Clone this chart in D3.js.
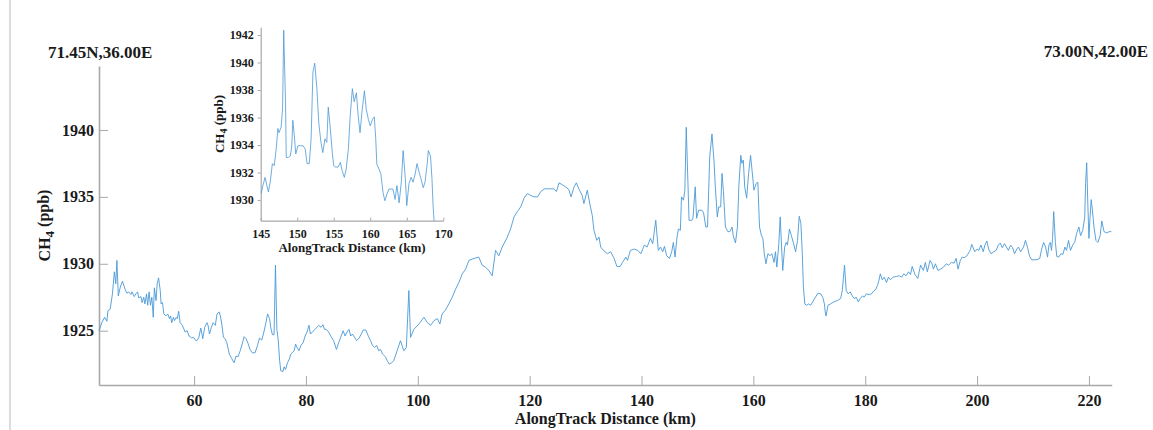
<!DOCTYPE html>
<html>
<head>
<meta charset="utf-8">
<script src="https://cdn.jsdelivr.net/npm/d3@7"></script>
<style>
  body { margin: 0; background: #fff; }
  svg { display: block; font-family: "Liberation Serif", "Times New Roman", serif; }
  .axis path, .axis line { stroke: #a8a8a8; }
  .axis text { fill: #1a1a1a; font-weight: bold; }
  .label { fill: #1a1a1a; font-weight: bold; }
</style>
</head>
<body>
<svg id="chart" width="1153" height="430"></svg>
<script>
// main track: along-track distance (km) and CH4 (ppb)
const trackKm = [
  43.0, 43.5, 44.0, 44.4, 44.6, 45.0, 45.4, 45.75, 46.0, 46.2, 46.45, 46.8, 47.2, 47.65, 48.0, 48.3,
  48.7, 48.9, 49.3, 49.6, 49.9, 50.1, 50.5, 50.7, 51.0, 51.2, 51.5, 51.7, 51.95, 52.2, 52.45, 52.7,
  52.9, 53.2, 53.4, 53.65, 53.95, 54.1, 54.35, 54.6, 54.95, 55.3, 55.6, 55.8, 56.0, 56.3, 56.5, 56.8,
  57.0, 57.25, 57.5, 57.9, 58.4, 58.75, 59.1, 59.6, 59.9, 60.3, 60.6, 60.85, 61.2, 61.55, 61.9, 62.3,
  62.5, 62.75, 63.1, 63.4, 63.8, 64.1, 64.5, 64.7, 64.95, 65.25, 65.55, 65.85, 66.3, 66.75, 67.15, 67.5,
  67.85, 68.25, 68.6, 68.95, 69.3, 69.65, 70.0, 70.4, 70.9, 71.35, 71.7, 72.1, 72.4, 72.8, 73.15, 73.5,
  73.7, 74.0, 74.3, 74.55, 74.8, 75.05, 75.3, 75.5, 75.9, 76.1, 76.35, 76.7, 77.05, 77.3, 77.55, 77.9,
  78.15, 78.4, 78.75, 79.1, 79.5, 79.85, 80.2, 80.55, 80.8, 81.15, 81.5, 81.85, 82.3, 82.7, 83.05, 83.3,
  83.65, 84.05, 84.5, 84.95, 85.45, 85.85, 86.3, 86.65, 87.0, 87.35, 87.7, 88.0, 88.3, 88.7, 89.05, 89.5,
  89.9, 90.25, 90.7, 91.2, 91.55, 91.9, 92.3, 92.65, 93.0, 93.35, 93.7, 94.2, 94.55, 94.9, 95.3, 95.7,
  96.3, 96.9, 97.5, 97.95, 98.4, 98.7, 99.3, 100.2, 101.1, 101.7, 102.3, 102.9, 103.5, 103.95, 104.35, 104.95,
  105.55, 106.15, 106.75, 107.35, 107.95, 108.55, 109.15, 110.05, 110.9, 111.5, 112.1, 112.7, 113.3, 113.9, 114.5, 115.1,
  115.9, 116.6, 117.2, 117.8, 118.4, 119.0, 119.6, 120.2, 120.8, 121.4, 122.0, 122.6, 123.5, 124.3, 124.8, 125.25,
  125.85, 126.4, 127.0, 127.4, 127.95, 128.35, 128.8, 129.4, 129.7, 130.3, 130.8, 131.2, 131.5, 132.0, 132.4, 132.7,
  133.2, 133.9, 134.5, 135.1, 135.6, 136.2, 136.6, 137.2, 137.5, 138.0, 138.7, 139.3, 139.9, 140.5, 141.0, 141.6,
  142.0, 142.55, 143.0, 143.4, 143.8, 144.1, 144.5, 145.0, 145.4, 145.7, 146.0, 146.35, 146.6, 146.95, 147.15, 147.5,
  147.75, 148.0, 148.5, 149.0, 149.2, 149.6, 149.85, 150.2, 150.8, 151.1, 151.5, 151.8, 152.2, 152.6, 152.95, 153.2,
  153.55, 153.8, 154.15, 154.4, 154.65, 155.0, 155.45, 155.8, 156.2, 156.4, 156.8, 157.15, 157.4, 157.75, 157.95, 158.2,
  158.45, 158.8, 159.15, 159.5, 159.9, 160.1, 160.5, 160.8, 161.1, 161.45, 161.7, 161.95, 162.25, 162.6, 163.0, 163.3,
  163.7, 163.95, 164.2, 164.55, 164.8, 165.05, 165.25, 165.6, 165.85, 166.1, 166.45, 166.8, 167.2, 167.55, 167.9, 168.2,
  168.5, 168.75, 168.95, 169.2, 169.5, 169.9, 170.25, 170.6, 171.1, 171.55, 172.05, 172.4, 172.7, 172.85, 173.0, 173.35,
  173.8, 174.4, 175.0, 175.6, 175.9, 176.3, 176.6, 176.95, 177.3, 177.7, 178.0, 178.4, 178.75, 179.1, 179.5, 179.8,
  180.2, 180.7, 181.1, 181.5, 181.9, 182.2, 182.45, 182.7, 183.05, 183.4, 183.8, 184.15, 184.5, 185.0, 185.6, 186.1,
  186.5, 186.9, 187.3, 187.75, 188.1, 188.4, 188.9, 189.4, 189.9, 190.4, 190.75, 191.1, 191.6, 191.95, 192.2, 192.55,
  193.0, 193.5, 194.0, 194.5, 194.9, 195.4, 195.9, 196.25, 196.6, 197.0, 197.35, 197.7, 198.2, 198.6, 198.8, 199.05,
  199.6, 200.0, 200.3, 200.7, 201.1, 201.4, 201.75, 202.1, 202.5, 203.0, 203.4, 203.8, 204.15, 204.5, 204.9, 205.25,
  205.6, 206.0, 206.35, 206.7, 207.1, 207.4, 207.8, 208.3, 208.65, 209.0, 209.4, 209.75, 210.2, 210.7, 211.2, 211.55,
  211.9, 212.25, 212.6, 212.85, 213.1, 213.3, 213.5, 213.7, 214.0, 214.25, 214.6, 215.0, 215.35, 215.7, 216.0, 216.35,
  216.7, 217.1, 217.45, 217.8, 218.2, 218.5, 218.9, 219.25, 219.4, 219.6, 219.8, 220.0, 220.2, 220.4, 220.6, 220.9,
  221.25, 221.6, 222.0, 222.3, 222.7, 223.2, 223.6, 224.0
];
const trackCh4 = [
  1925.0, 1925.6, 1926.0, 1925.7, 1926.5, 1926.6, 1927.75, 1929.4, 1928.5, 1930.25, 1927.6, 1928.25, 1928.7, 1928.1, 1927.8, 1927.9,
  1927.7, 1927.9, 1927.55, 1927.75, 1927.9, 1927.45, 1927.55, 1927.1, 1927.5, 1927.0, 1927.75, 1926.9, 1927.9, 1926.9, 1927.5, 1926.0,
  1928.2, 1927.25, 1928.5, 1928.95, 1928.0, 1927.0, 1927.1, 1926.25, 1926.1, 1926.25, 1925.9, 1926.1, 1925.6, 1926.0, 1925.75, 1926.0,
  1925.9, 1926.45, 1925.6, 1925.4, 1924.9, 1925.0, 1924.6, 1924.45, 1924.5, 1924.25, 1924.3, 1924.5, 1925.2, 1924.4, 1925.25, 1925.6,
  1925.4, 1924.75, 1925.25, 1925.6, 1925.4, 1926.25, 1926.4, 1926.1, 1925.5, 1924.5, 1924.4, 1924.1, 1923.25, 1922.9, 1922.6, 1923.1,
  1923.05, 1923.5, 1924.0, 1924.55, 1924.4, 1924.05, 1923.6, 1923.35, 1923.35, 1923.9, 1924.45, 1924.3, 1924.75, 1925.5, 1926.25, 1925.9,
  1925.25, 1924.7, 1924.7, 1929.9, 1925.1, 1924.3, 1922.75, 1922.0, 1921.95, 1922.3, 1922.1, 1922.6, 1922.9, 1923.25, 1923.35, 1923.5,
  1924.0, 1923.75, 1923.5, 1923.9, 1924.1, 1924.6, 1924.9, 1925.4, 1924.75, 1924.9, 1925.05, 1925.2, 1925.4, 1925.25, 1925.45, 1925.1,
  1925.1, 1924.9, 1924.55, 1924.25, 1923.6, 1924.1, 1924.6, 1925.0, 1924.6, 1924.9, 1925.1, 1924.6, 1924.75, 1924.5, 1924.25, 1924.45,
  1924.75, 1925.05, 1925.05, 1924.55, 1924.25, 1923.9, 1923.75, 1923.9, 1923.5, 1923.6, 1923.25, 1923.05, 1922.75, 1922.5, 1922.6, 1922.75,
  1923.5, 1924.25, 1923.5, 1923.75, 1928.0, 1924.5, 1925.1, 1925.5, 1926.0, 1925.6, 1925.4, 1925.75, 1925.9, 1925.5, 1926.25, 1926.55,
  1927.0, 1927.5, 1928.1, 1928.6, 1929.25, 1929.6, 1930.25, 1930.4, 1930.5, 1929.9, 1929.75, 1929.5, 1929.1, 1931.0, 1930.6, 1931.25,
  1931.9, 1932.6, 1933.5, 1933.9, 1934.25, 1934.9, 1935.25, 1935.1, 1935.0, 1935.0, 1935.4, 1935.6, 1935.6, 1935.6, 1935.4, 1936.05,
  1935.9, 1935.75, 1935.55, 1935.0, 1935.75, 1936.05, 1935.6, 1935.1, 1934.5, 1935.5, 1934.4, 1933.6, 1932.5, 1931.75, 1932.0, 1931.25,
  1931.0, 1930.75, 1930.9, 1930.4, 1929.8, 1929.8, 1930.1, 1930.5, 1930.25, 1931.0, 1931.1, 1931.0, 1930.75, 1931.4, 1931.25, 1931.9,
  1931.5, 1933.25, 1931.0, 1931.25, 1930.9, 1931.3, 1930.6, 1930.4, 1930.9, 1931.6, 1930.5, 1932.0, 1932.6, 1932.5, 1935.0, 1934.75,
  1935.5, 1940.2, 1933.25, 1933.25, 1933.4, 1935.75, 1933.4, 1934.0, 1934.0, 1933.8, 1932.75, 1932.75, 1938.0, 1939.7, 1937.75, 1935.75,
  1933.5, 1934.25, 1934.25, 1936.75, 1935.4, 1932.75, 1932.4, 1932.4, 1932.75, 1932.1, 1931.55, 1932.75, 1935.75, 1938.1, 1937.5, 1937.75,
  1935.75, 1934.9, 1936.75, 1938.1, 1936.4, 1935.5, 1936.0, 1936.1, 1932.75, 1932.1, 1931.9, 1930.75, 1930.0, 1930.75, 1930.6, 1930.75,
  1930.1, 1930.9, 1929.75, 1931.5, 1933.5, 1931.25, 1929.5, 1931.25, 1931.6, 1931.4, 1932.6, 1932.1, 1931.5, 1930.9, 1931.75, 1933.55,
  1933.0, 1930.75, 1928.25, 1927.0, 1926.9, 1927.0, 1926.9, 1927.15, 1927.5, 1927.8, 1927.75, 1927.5, 1927.0, 1926.4, 1926.1, 1926.9,
  1927.0, 1927.15, 1927.25, 1927.4, 1928.0, 1929.9, 1928.0, 1927.75, 1927.9, 1927.6, 1927.4, 1927.5, 1927.15, 1927.4, 1927.6, 1927.5,
  1927.75, 1927.7, 1927.75, 1927.95, 1928.1, 1928.4, 1928.75, 1929.25, 1928.8, 1929.0, 1928.6, 1929.0, 1928.8, 1929.0, 1929.05, 1929.1,
  1929.0, 1929.25, 1929.1, 1929.4, 1929.2, 1929.8, 1929.2, 1928.9, 1929.9, 1929.5, 1930.1, 1929.4, 1930.25, 1930.0, 1929.6, 1930.0,
  1929.5, 1929.6, 1929.75, 1930.0, 1929.9, 1930.1, 1930.05, 1930.4, 1929.6, 1930.25, 1930.5, 1930.45, 1930.6, 1930.9, 1931.05, 1931.45,
  1930.9, 1931.1, 1931.0, 1931.4, 1930.9, 1931.4, 1931.7, 1931.05, 1930.75, 1930.9, 1931.0, 1931.4, 1931.55, 1931.2, 1931.5, 1931.25,
  1931.0, 1931.4, 1931.2, 1930.75, 1931.1, 1931.25, 1930.9, 1931.25, 1931.75, 1931.25, 1930.55, 1930.3, 1930.3, 1930.3, 1930.4, 1931.1,
  1931.6, 1931.25, 1930.5, 1931.4, 1931.6, 1931.0, 1931.9, 1933.9, 1931.6, 1930.55, 1930.5, 1930.75, 1930.7, 1931.25, 1931.0, 1931.75,
  1931.0, 1931.4, 1931.6, 1932.25, 1932.75, 1932.1, 1932.5, 1933.5, 1936.0, 1937.55, 1934.5, 1931.9, 1933.5, 1934.8, 1934.1, 1932.75,
  1931.75, 1931.6, 1932.1, 1933.2, 1932.4, 1932.3, 1932.4, 1932.4
];

// inset: zoom on 145-170 km
const insetKm = [
  145.05, 145.3, 145.6, 145.85, 146.05, 146.3, 146.6, 146.85, 147.15, 147.35, 147.5, 147.8, 148.0, 148.15, 148.4, 148.5,
  148.8, 149.05, 149.25, 149.4, 149.6, 149.8, 150.1, 150.45, 150.8, 151.1, 151.35, 151.65, 151.9, 152.15, 152.4, 152.7,
  152.95, 153.25, 153.5, 153.8, 154.05, 154.25, 154.5, 154.8, 155.0, 155.25, 155.6, 155.9, 156.15, 156.45, 156.7, 157.0,
  157.25, 157.55, 157.8, 158.1, 158.35, 158.6, 158.9, 159.2, 159.45, 159.75, 160.0, 160.3, 160.55, 160.75, 160.9, 161.2,
  161.45, 161.75, 162.0, 162.3, 162.55, 162.8, 163.1, 163.4, 163.65, 163.95, 164.25, 164.5, 164.8, 165.0, 165.3, 165.6,
  165.85, 166.15, 166.4, 166.7, 166.95, 167.25, 167.5, 167.8, 167.95, 168.25, 168.45, 168.6, 168.75, 168.95
];
const insetCh4 = [
  1930.45, 1931.05, 1931.65, 1931.05, 1930.6, 1931.3, 1932.65, 1932.5, 1933.85, 1935.2, 1934.9, 1935.3, 1936.75, 1942.35, 1937.0, 1933.1,
  1933.1, 1933.2, 1933.9, 1935.8, 1934.7, 1933.35, 1933.95, 1933.95, 1933.95, 1933.7, 1932.65, 1932.65, 1934.45, 1939.3, 1939.95, 1938.05,
  1935.6, 1934.2, 1933.45, 1934.45, 1934.2, 1936.75, 1935.4, 1933.45, 1932.5, 1932.4, 1932.4, 1932.75, 1932.15, 1931.65, 1932.25, 1933.7,
  1936.1, 1938.1, 1937.15, 1937.8, 1936.1, 1934.9, 1936.6, 1937.95, 1936.6, 1935.85, 1935.4, 1935.85, 1936.05, 1934.45, 1932.6, 1932.25,
  1931.9, 1930.55, 1929.95, 1930.45, 1930.8, 1930.8, 1930.8, 1930.05, 1931.05, 1929.8, 1931.3, 1933.6, 1931.55, 1929.6, 1931.2, 1931.65,
  1931.3, 1931.9, 1932.65, 1932.0, 1931.55, 1930.9, 1931.3, 1932.65, 1933.6, 1933.2, 1931.55, 1929.6, 1928.4, 1926.8
];

const mainXTicks = [60, 80, 100, 120, 140, 160, 180, 200, 220];
const mainYTicks = [1925, 1930, 1935, 1940];
const insetXTicks = [145, 150, 155, 160, 165, 170];
const insetYTicks = [1930, 1932, 1934, 1936, 1938, 1940, 1942];

const startLabel = "71.45N,36.00E";
const endLabel = "73.00N,42.00E";

const serif = "'Liberation Serif', 'Times New Roman', serif";
const lineColor = "#4a98d6";
const chart = d3.select("#chart");

// left figure border
chart.append("line")
  .attr("x1", 10).attr("x2", 10).attr("y1", 0).attr("y2", 430)
  .attr("stroke", "#dcdcdc").attr("stroke-width", 2);

// ---- main axes ----
const main = { left: 99, right: 1111.7, top: 66, bottom: 385 };

const xScale = d3.scaleLinear().domain([43, 224.07]).range([main.left, main.right]);
const yScale = d3.scaleLinear().domain([1920.94, 1944.78]).range([main.bottom, main.top]);

const xAxis = chart.append("g")
  .attr("class", "axis")
  .attr("transform", `translate(0, ${main.bottom})`)
  .call(d3.axisBottom(xScale).tickValues(mainXTicks).tickFormat(d3.format("d"))
    .tickSizeInner(-9).tickSizeOuter(0).tickPadding(10));

const yAxis = chart.append("g")
  .attr("class", "axis")
  .attr("transform", `translate(${main.left}, 0)`)
  .call(d3.axisLeft(yScale).tickValues(mainYTicks).tickFormat(d3.format("d"))
    .tickSizeInner(-9).tickSizeOuter(0).tickPadding(5));

[xAxis, yAxis].forEach((a) => {
  a.attr("font-family", serif).attr("font-size", 16);
  a.select(".domain").attr("stroke-width", 1.6);
});

const mainLine = d3.line()
  .x((d, i) => xScale(trackKm[i]))
  .y((d) => yScale(d));

chart.append("path")
  .datum(trackCh4)
  .attr("fill", "none")
  .attr("stroke", lineColor)
  .attr("stroke-width", 0.9)
  .attr("d", mainLine);

chart.append("text")
  .attr("class", "label")
  .attr("x", (main.left + main.right) / 2)
  .attr("y", 424)
  .attr("text-anchor", "middle")
  .style("font-size", "16px")
  .text("AlongTrack Distance (km)");

const yLabel = chart.append("text")
  .attr("class", "label")
  .attr("transform", `translate(50, ${(main.top + main.bottom) / 2}) rotate(-90)`)
  .attr("text-anchor", "middle")
  .style("font-size", "16px");
yLabel.append("tspan").text("CH");
yLabel.append("tspan").attr("dy", "0.3em").style("font-size", "13px").text("4");
yLabel.append("tspan").attr("dy", "-0.3em").text("\u00a0(ppb)");

chart.append("text")
  .attr("class", "label")
  .attr("x", 48).attr("y", 58)
  .style("font-size", "17px")
  .text(startLabel);

chart.append("text")
  .attr("class", "label")
  .attr("x", 1148).attr("y", 57)
  .attr("text-anchor", "end")
  .style("font-size", "17px")
  .text(endLabel);

// ---- inset axes ----
const ins = { left: 260.7, right: 443.3, top: 27.3, bottom: 220.7 };

const xInset = d3.scaleLinear().domain([145, 170]).range([ins.left, ins.right]);
const yInset = d3.scaleLinear().domain([1928.5, 1942.56]).range([ins.bottom, ins.top]);

chart.append("clipPath").attr("id", "inset-clip")
  .append("rect")
  .attr("x", ins.left).attr("y", ins.top)
  .attr("width", ins.right - ins.left).attr("height", ins.bottom - ins.top);

const xInsetAxis = chart.append("g")
  .attr("class", "axis")
  .attr("transform", `translate(0, ${ins.bottom})`)
  .call(d3.axisBottom(xInset).tickValues(insetXTicks).tickFormat(d3.format("d"))
    .tickSizeInner(-3).tickSizeOuter(0).tickPadding(9));

const yInsetAxis = chart.append("g")
  .attr("class", "axis")
  .attr("transform", `translate(${ins.left}, 0)`)
  .call(d3.axisLeft(yInset).tickValues(insetYTicks).tickFormat(d3.format("d"))
    .tickSizeInner(3).tickSizeOuter(0).tickPadding(4));

[xInsetAxis, yInsetAxis].forEach((a) => {
  a.attr("font-family", serif).attr("font-size", 12);
  a.select(".domain").attr("stroke-width", 1.2);
});

const insetLine = d3.line()
  .x((d, i) => xInset(insetKm[i]))
  .y((d) => yInset(d));

chart.append("path")
  .datum(insetCh4)
  .attr("clip-path", "url(#inset-clip)")
  .attr("fill", "none")
  .attr("stroke", lineColor)
  .attr("stroke-width", 0.8)
  .attr("d", insetLine);

chart.append("text")
  .attr("class", "label")
  .attr("x", (ins.left + ins.right) / 2)
  .attr("y", 252)
  .attr("text-anchor", "middle")
  .style("font-size", "13px")
  .text("AlongTrack Distance (km)");

const yInsetLabel = chart.append("text")
  .attr("class", "label")
  .attr("transform", `translate(224, ${(ins.top + ins.bottom) / 2}) rotate(-90)`)
  .attr("text-anchor", "middle")
  .style("font-size", "13px");
yInsetLabel.append("tspan").text("CH");
yInsetLabel.append("tspan").attr("dy", "0.3em").style("font-size", "10px").text("4");
yInsetLabel.append("tspan").attr("dy", "-0.3em").text("\u00a0(ppb)");
</script>
</body>
</html>
